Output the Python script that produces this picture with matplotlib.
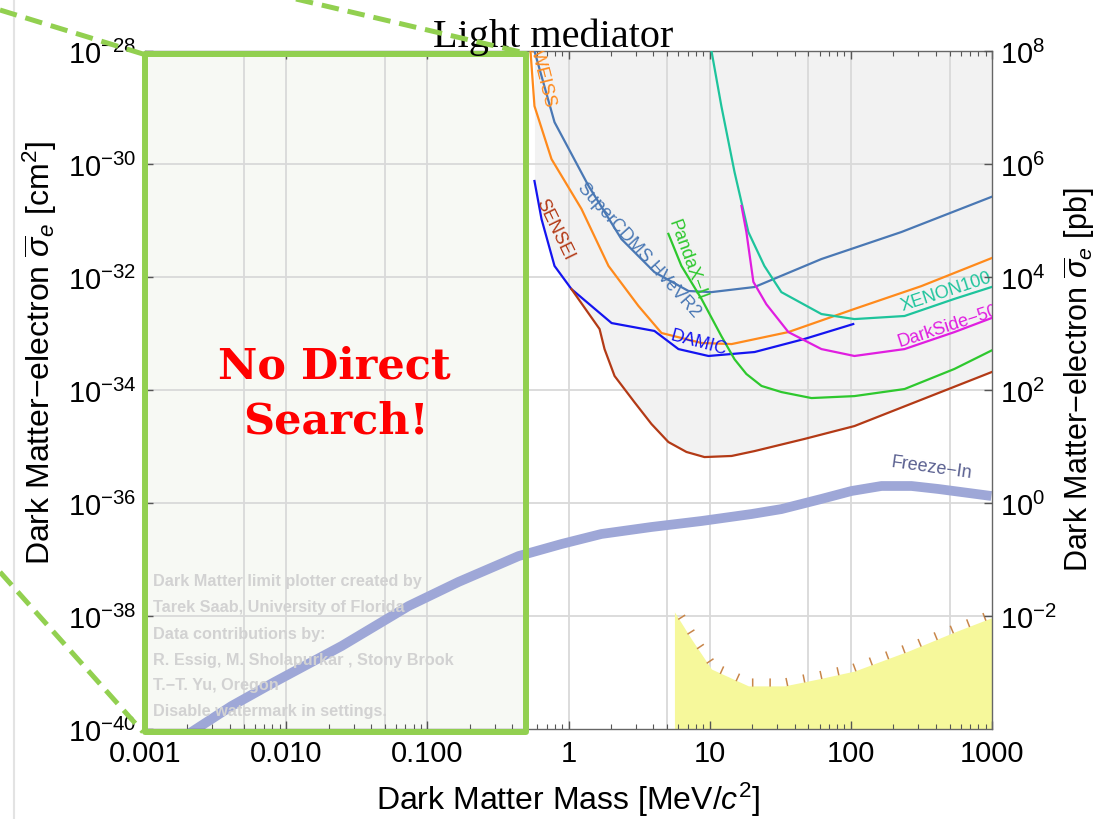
import numpy as np
import matplotlib
matplotlib.use('Agg')
import matplotlib.pyplot as plt
from matplotlib import patheffects
from matplotlib.patches import Rectangle
from matplotlib.lines import Line2D
from matplotlib.ticker import FixedLocator, NullLocator, FuncFormatter, LogLocator, NullFormatter

plt.rcParams['font.family'] = ['Liberation Sans', 'DejaVu Sans']
plt.rcParams['mathtext.fontset'] = 'custom'
plt.rcParams['mathtext.rm'] = 'Liberation Sans'
plt.rcParams['mathtext.it'] = 'Liberation Sans:italic'
plt.rcParams['mathtext.bf'] = 'Liberation Sans:bold'

# ---------------- data (mass in MeV, cross section in cm^2) ----------------
edelweiss_m = [0.538, 0.574, 0.758, 1.236, 1.92, 3.13, 4.56, 8.75, 14.3, 36.1, 106, 316, 1040]
edelweiss_s = [1e-28, 1.06e-29, 1.22e-30, 1.6e-31, 1.57e-32, 3.07e-33, 1.02e-33, 6.8e-34, 6.5e-34,
               1.06e-33, 2.72e-33, 6.9e-33, 2.26e-32]

supercdms_m = [0.574, 0.796, 1.386, 2.37, 4.06, 7.08, 10.3, 20.8, 61.9, 228, 1023]
supercdms_s = [1e-28, 5.5e-30, 4.1e-31, 4.7e-32, 1.22e-32, 5.65e-33, 5.4e-33, 6.65e-33, 2.08e-32,
               6.25e-32, 2.7e-31]

damic_m = [0.574, 0.644, 0.796, 1.05, 2.02, 4.06, 6.01, 9.81, 20.8, 46.9, 104]
damic_s = [5.0e-31, 1.06e-31, 1.57e-32, 6.1e-33, 1.53e-33, 1.11e-33, 5.3e-34, 4.0e-34, 4.7e-34,
           8.0e-34, 1.47e-33]

sensei_m = [1.05, 1.66, 1.80, 2.12, 2.93, 3.87, 5.10, 6.85, 9.19, 14.3, 20.8, 46.9, 106, 1040]
sensei_s = [6.1e-33, 1.2e-33, 5.3e-34, 1.77e-34, 6.1e-35, 2.5e-35, 1.2e-35, 8.0e-36, 6.5e-36,
            6.8e-36, 8.3e-36, 1.36e-35, 2.3e-35, 2.17e-34]

pandax_m = [5.10, 6.31, 8.75, 12.1, 15.0, 18.2, 23.3, 32.2, 52.6, 106, 240, 542, 1040]
pandax_s = [5.8e-32, 1.57e-32, 4.1e-33, 9.0e-34, 3.5e-34, 1.92e-34, 1.18e-34, 9.2e-35, 7.2e-35,
            7.8e-35, 1.04e-34, 2.36e-34, 5.3e-34]

xenon_m = [10.3, 12.1, 15.0, 18.8, 24.4, 32.2, 61.9, 106, 240, 542, 1040]
xenon_s = [1e-28, 1.06e-29, 7.2e-31, 6.25e-32, 1.57e-32, 5.4e-33, 2.21e-33, 1.8e-33, 2.04e-33,
           4.1e-33, 6.9e-33]

darkside_m = [16.8, 18.2, 20.4, 25.2, 36.1, 61.9, 106, 240, 542, 1040]
darkside_s = [1.81e-31, 6.25e-32, 8.2e-33, 3.3e-33, 1.06e-33, 5.3e-34, 4.0e-34, 5.3e-34, 1.06e-33,
              1.96e-33]

freezein_m = [0.00168, 0.0041, 0.00828, 0.0247, 0.0736, 0.166, 0.443, 0.892, 1.71, 3.87, 8.75,
              19.8, 32.2, 61.9, 101, 165, 269, 417, 990]
freezein_s = [6.0e-41, 2.55e-40, 6.8e-40, 2.94e-39, 1.5e-38, 4.0e-38, 1.15e-37, 1.88e-37, 2.83e-37,
              3.76e-37, 4.8e-37, 6.38e-37, 7.8e-37, 1.18e-36, 1.63e-36, 2.0e-36, 2.0e-36, 1.77e-36,
              1.33e-36]

yellow_m = [5.63, 7.43, 10.3, 18.8, 33.9, 59.0, 106, 256, 542, 1023]
yellow_s = [1.18e-38, 3.9e-39, 1.15e-39, 5.8e-40, 5.8e-40, 7.7e-40, 1.06e-39, 2.4e-39, 5.2e-39, 9.6e-39]

x_ticks = [0.001, 0.01, 0.1, 1, 10, 100, 1000]
x_ticklabels = ['0.001', '0.010', '0.100', '1', '10', '100', '1000']
y_ticks = [1e-40, 1e-38, 1e-36, 1e-34, 1e-32, 1e-30, 1e-28]
y2_ticks = [1e-2, 1e0, 1e2, 1e4, 1e6, 1e8]
grid_x = [0.005, 0.01, 0.05, 0.1, 0.5, 1, 5, 10, 50, 100, 500]
grid_y = [1e-38, 1e-36, 1e-34, 1e-32, 1e-30]
no_search_range = (0.001, 0.5)

watermark = ["Dark Matter limit plotter created by",
             "Tarek Saab, University of Florida",
             "Data contributions by:",
             "R. Essig, M. Sholapurkar , Stony Brook",
             "T.\u2212T. Yu, Oregon",
             "Disable watermark in settings."]

# ---------------- figure ----------------
W, H = 1097, 820
fig = plt.figure(figsize=(W / 100, H / 100), dpi=100)
fig.patch.set_facecolor('white')


def fx(px):
    return px / W


def fy(py):
    return 1 - py / H


ax = fig.add_axes([fx(145), fy(730), fx(992) - fx(145), fy(52) - fy(730)])
ax.set_xscale('log')
ax.set_yscale('log')
ax.set_xlim(1e-3, 1e3)
ax.set_ylim(1e-40, 1e-28)
ax.set_facecolor('white')

for gx in grid_x:
    ax.axvline(gx, color='#d9d9d9', lw=1.3, zorder=0.5)
for gy in grid_y:
    ax.axhline(gy, color='#d9d9d9', lw=1.3, zorder=0.5)

# "No direct search" rectangle fill
ax.add_patch(Rectangle((no_search_range[0], 1e-40), no_search_range[1] - no_search_range[0], 1e-28,
                       facecolor='#f7f9f4', edgecolor='none', zorder=0.3))

# grey excluded region: lower envelope of DAMIC (low mass) and SENSEI
env_m = np.concatenate([damic_m[:3], sensei_m])
env_s = np.concatenate([damic_s[:3], sensei_s])
ax.fill_between(env_m, env_s, 1e-28, color='#f2f2f2', lw=0, zorder=0.2)

# yellow region
ax.fill_between(yellow_m, yellow_s, 1e-41, color='#f6f89b', lw=0, zorder=1)
ax.plot(yellow_m, yellow_s, color='#c8864a', lw=1.1, zorder=1.1,
        path_effects=[patheffects.TickedStroke(spacing=12, length=0.4, angle=90)])

lw = 1.6
ax.plot(edelweiss_m, edelweiss_s, color='#ff8a1c', lw=lw, zorder=3)
ax.plot(supercdms_m, supercdms_s, color='#4a78b4', lw=lw, zorder=3)
ax.plot(damic_m, damic_s, color='#1414f0', lw=lw, zorder=3)
ax.plot(sensei_m, sensei_s, color='#b33a16', lw=lw, zorder=3)
ax.plot(pandax_m, pandax_s, color='#2ec82e', lw=lw, zorder=3)
ax.plot(xenon_m, xenon_s, color='#1ec49c', lw=lw, zorder=3)
ax.plot(darkside_m, darkside_s, color='#e01ee0', lw=lw, zorder=3)
ax.plot(freezein_m, freezein_s, color='#9ea7d7', lw=7, solid_capstyle='butt',
        solid_joinstyle='round', zorder=2.5)

lab = dict(fontsize=13, ha='center', va='center', rotation_mode='anchor', clip_on=True, zorder=4)
ax.text(0.593, 7.8e-29, 'EDELWEISS', color='#ff8a1c', rotation=-76, **lab)
ax.text(3.13, 3.13e-32, 'SuperCDMS HVeVR2', color='#4a78b4', rotation=-48, **lab)
ax.text(0.796, 7.08e-32, 'SENSEI', color='#b33a16', rotation=-64, **lab)
ax.text(6.96, 2.08e-32, 'PandaX\u2212II', color='#2ec82e', rotation=-70, **lab)
ax.text(8.33, 7.08e-34, 'DAMIC', color='#1414f0', rotation=-15, **lab)
ax.text(475, 5.65e-33, 'XENON100', color='#1ec49c', rotation=18, **lab)
ax.text(491, 1.41e-33, 'DarkSide\u221250', color='#e01ee0', rotation=18, **lab)
ax.text(372, 4.33e-36, 'Freeze\u2212In', color='#5a6090', rotation=-8, **lab)

# axes styling
ax.xaxis.set_major_locator(FixedLocator(x_ticks))
ax.set_xticklabels(x_ticklabels)
ax.xaxis.set_minor_locator(LogLocator(base=10, subs=np.arange(2, 10), numticks=20))
ax.xaxis.set_minor_formatter(NullFormatter())
ax.yaxis.set_major_locator(FixedLocator(y_ticks))
ax.yaxis.set_minor_locator(NullLocator())
ax.yaxis.set_major_formatter(FuncFormatter(lambda v, p: r'$10^{%d}$' % round(np.log10(v))))
ax.tick_params(axis='both', which='both', direction='in', top=True, right=False,
               colors='#555555', labelcolor='black', labelsize=21)
ax.tick_params(axis='both', which='major', length=6, width=1)
ax.tick_params(axis='both', which='minor', length=3.5, width=0.8)
ax.tick_params(axis='x', pad=7)
ax.tick_params(axis='y', pad=6)
for sp in ax.spines.values():
    sp.set_color('#666666')
    sp.set_linewidth(1)

tw = ax.twinx()
tw.set_yscale('log')
tw.set_ylim(1e-4, 1e8)
tw.yaxis.set_major_locator(FixedLocator(y2_ticks))
tw.yaxis.set_minor_locator(NullLocator())
tw.yaxis.set_major_formatter(FuncFormatter(lambda v, p: r'$10^{%d}$' % round(np.log10(v))))
tw.tick_params(axis='y', which='major', direction='in', length=6, width=1, colors='#555555',
               labelcolor='black', labelsize=21, pad=6)
for sp in tw.spines.values():
    sp.set_visible(False)

# green "no direct search" frame
ax.add_patch(Rectangle((no_search_range[0], 9e-41), no_search_range[1] - no_search_range[0], 9e-29 - 9e-41,
                       facecolor='none', edgecolor='#92d050', lw=4.3, joinstyle='round',
                       clip_on=False, zorder=10))

for i, line in enumerate(watermark):
    fig.text(fx(153), fy(582 + 26 * i), line, color='#d2d2d2', fontsize=11.7, fontweight='bold',
             ha='left', va='center', zorder=5)

fig.text(fx(334), fy(367), 'No Direct', color='#ff0000', fontsize=31, fontweight='bold',
         family='DejaVu Serif', ha='center', va='center', zorder=11)
fig.text(fx(336), fy(422), 'Search!', color='#ff0000', fontsize=31, fontweight='bold',
         family='DejaVu Serif', ha='center', va='center', zorder=11)

# labels and title
fig.text(fx(553), fy(47), 'Light mediator', family='Liberation Serif', fontsize=29,
         ha='center', va='baseline')
fig.text(fx(568), fy(800), 'Dark Matter Mass [MeV/$c^2$]', fontsize=23, ha='center', va='center')
fig.text(fx(40), fy(353), r'Dark Matter$-$electron $\overline{\sigma}_e$ [cm$^2$]', fontsize=23,
         rotation=90, ha='center', va='center')
fig.text(fx(1079), fy(380), r'Dark Matter$-$electron $\overline{\sigma}_e$ [pb]', fontsize=22,
         rotation=90, ha='center', va='center')

# frame line at left edge
fig.add_artist(Line2D([fx(14), fx(14)], [0, 1], transform=fig.transFigure, color='#e3e3e3', lw=1.5))

# dashed zoom lines
dash = dict(transform=fig.transFigure, color='#92d050', lw=3.6, dashes=(3.5, 1.8), zorder=20)
fig.add_artist(Line2D([fx(0), fx(143)], [fy(11), fy(55)], **dash))
fig.add_artist(Line2D([fx(296), fx(529)], [fy(0), fy(55)], **dash))
fig.add_artist(Line2D([fx(0), fx(143)], [fy(573), fy(733)], **dash))

fig.savefig('out.png', dpi=100, facecolor='white')
